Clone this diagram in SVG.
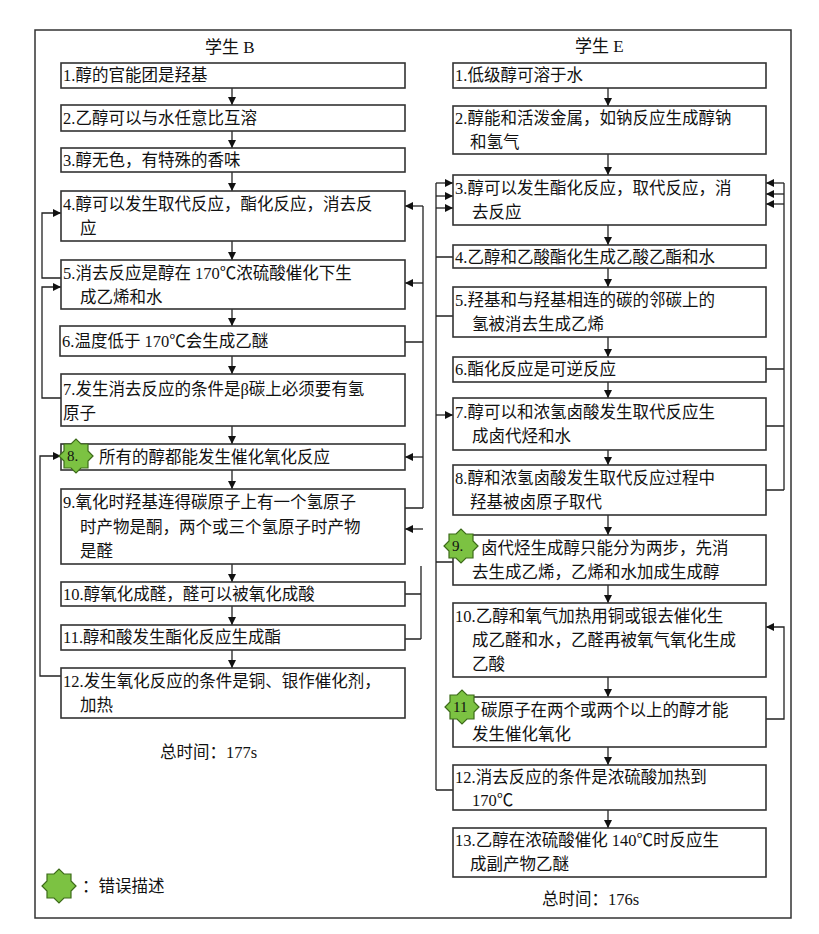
<svg xmlns="http://www.w3.org/2000/svg" width="819" height="934" viewBox="0 0 819 934">
<style>
.b{fill:#fff;stroke:#333;stroke-width:1.6}
.t{font-family:"Liberation Serif","Noto Sans CJK SC",serif;font-size:16.5px;fill:#111}
.h{font-family:"Liberation Serif","Noto Sans CJK SC",serif;font-size:17px;fill:#111}
.c{fill:none;stroke:#222;stroke-width:1.3}
.s{fill:#7cc242;stroke:#3d6b1a;stroke-width:1.2}
.n{font-family:"Liberation Serif",serif;font-size:15px;fill:#111}
</style>
<defs>
<marker id="a" viewBox="0 0 10 10" refX="10" refY="5" markerWidth="8" markerHeight="8" orient="auto" markerUnits="userSpaceOnUse"><path d="M0,0L10,5L0,10z" fill="#111"/></marker>
<polygon id="star" points="17,0 12,5 12,12 5,12 0,17 -5,12 -12,12 -12,5 -17,0 -12,-5 -12,-12 -5,-12 0,-17 5,-12 12,-12 12,-5"/>
</defs>
<rect x="0" y="0" width="819" height="934" fill="#fff"/>
<rect x="35" y="30" width="756" height="888" fill="none" stroke="#333" stroke-width="1.5"/>
<text class="h" x="205" y="53">学生 B</text>
<text class="h" x="575" y="52">学生 E</text>

<g id="connectors" class="c" marker-end="url(#a)">
<path d="M232,88V105"/><path d="M232,131V148"/><path d="M232,172V191"/><path d="M232,241V260"/><path d="M232,309V326"/><path d="M232,356V374"/><path d="M232,426V444"/><path d="M232,470V489"/><path d="M232,564V582"/><path d="M232,606V625"/><path d="M232,650V668"/>
<path d="M61,278H42V213H61"/>
<path d="M61,398H42V287H61"/>
<path d="M61,676H40V456H61"/>
<path d="M423,206V508M405,342H423M405,508H423M421,566V639M405,594H421M405,639H421" marker-end="none"/>
<path d="M423,206H405"/><path d="M423,283H405"/><path d="M423,457H405"/><path d="M423,529H405"/>
<path d="M608,88V106"/><path d="M608,154V175"/><path d="M608,225V245"/><path d="M608,268V287"/><path d="M608,337V357"/><path d="M608,382V398"/><path d="M608,450V465"/><path d="M608,515V535"/><path d="M608,585V603"/><path d="M608,677V697"/><path d="M608,747V765"/><path d="M608,810V828"/>
<path d="M436,183V790M453,257H436M453,316H436M453,562H436M453,790H436" marker-end="none"/>
<path d="M436,183H453"/><path d="M436,196H453"/><path d="M436,208H453"/><path d="M436,415H453"/>
<path d="M784,183V490M766,369H784M766,426H784M766,490H784" marker-end="none"/>
<path d="M784,183H766"/><path d="M784,194H766"/><path d="M784,204H766"/>
<path d="M766,719H784V627H766"/>
</g>

<g id="B1"><rect class="b" x="61" y="63" width="344" height="25"/><text class="t" x="63" y="81">1.醇的官能团是羟基</text></g>
<g id="B2"><rect class="b" x="61" y="105" width="344" height="26"/><text class="t" x="63" y="124">2.乙醇可以与水任意比互溶</text></g>
<g id="B3"><rect class="b" x="61" y="148" width="344" height="24"/><text class="t" x="63" y="166">3.醇无色，有特殊的香味</text></g>
<g id="B4"><rect class="b" x="61" y="191" width="344" height="50"/><text class="t" x="63" y="210">4.醇可以发生取代反应，酯化反应，消去反</text><text class="t" x="80" y="234">应</text></g>
<g id="B5"><rect class="b" x="61" y="260" width="344" height="49"/><text class="t" x="63" y="279">5.消去反应是醇在 170℃浓硫酸催化下生</text><text class="t" x="80" y="303">成乙烯和水</text></g>
<g id="B6"><rect class="b" x="60" y="326" width="345" height="30"/><text class="t" x="62" y="347">6.温度低于 170℃会生成乙醚</text></g>
<g id="B7"><rect class="b" x="61" y="374" width="344" height="52"/><text class="t" x="63" y="395">7.发生消去反应的条件是β碳上必须要有氢</text><text class="t" x="63" y="419">原子</text></g>
<g id="B8"><rect class="b" x="61" y="444" width="344" height="26"/><use href="#star" class="s" x="76" y="456"/><text class="n" x="67" y="461">8.</text><text class="t" x="99" y="463">所有的醇都能发生催化氧化反应</text></g>
<g id="B9"><rect class="b" x="61" y="489" width="344" height="75"/><text class="t" x="63" y="508">9.氧化时羟基连得碳原子上有一个氢原子</text><text class="t" x="80" y="533">时产物是酮，两个或三个氢原子时产物</text><text class="t" x="80" y="557">是醛</text></g>
<g id="B10"><rect class="b" x="61" y="582" width="344" height="24"/><text class="t" x="63" y="600">10.醇氧化成醛，醛可以被氧化成酸</text></g>
<g id="B11"><rect class="b" x="61" y="625" width="344" height="25"/><text class="t" x="63" y="643">11.醇和酸发生酯化反应生成酯</text></g>
<g id="B12"><rect class="b" x="61" y="668" width="344" height="50"/><text class="t" x="63" y="687">12.发生氧化反应的条件是铜、银作催化剂，</text><text class="t" x="80" y="711">加热</text></g>
<text class="t" x="160" y="758" font-size="15">总时间：177s</text>

<g id="E1"><rect class="b" x="453" y="63" width="313" height="25"/><text class="t" x="455" y="81">1.低级醇可溶于水</text></g>
<g id="E2"><rect class="b" x="453" y="106" width="313" height="48"/><text class="t" x="455" y="124">2.醇能和活泼金属，如钠反应生成醇钠</text><text class="t" x="470" y="148">和氢气</text></g>
<g id="E3"><rect class="b" x="453" y="175" width="313" height="50"/><text class="t" x="455" y="194">3.醇可以发生酯化反应，取代反应，消</text><text class="t" x="472" y="218">去反应</text></g>
<g id="E4"><rect class="b" x="453" y="245" width="313" height="23"/><text class="t" x="455" y="263">4.乙醇和乙酸酯化生成乙酸乙酯和水</text></g>
<g id="E5"><rect class="b" x="453" y="287" width="313" height="50"/><text class="t" x="455" y="306">5.羟基和与羟基相连的碳的邻碳上的</text><text class="t" x="472" y="330">氢被消去生成乙烯</text></g>
<g id="E6"><rect class="b" x="453" y="357" width="313" height="25"/><text class="t" x="455" y="375">6.酯化反应是可逆反应</text></g>
<g id="E7"><rect class="b" x="453" y="398" width="313" height="52"/><text class="t" x="455" y="418">7.醇可以和浓氢卤酸发生取代反应生</text><text class="t" x="472" y="442">成卤代烃和水</text></g>
<g id="E8"><rect class="b" x="453" y="465" width="313" height="50"/><text class="t" x="455" y="484">8.醇和浓氢卤酸发生取代反应过程中</text><text class="t" x="470" y="508">羟基被卤原子取代</text></g>
<g id="E9"><rect class="b" x="453" y="535" width="313" height="50"/><use href="#star" class="s" x="461" y="546"/><text class="n" x="452" y="551">9.</text><text class="t" x="481" y="554">卤代烃生成醇只能分为两步，先消</text><text class="t" x="472" y="578">去生成乙烯，乙烯和水加成生成醇</text></g>
<g id="E10"><rect class="b" x="453" y="603" width="313" height="74"/><text class="t" x="455" y="622">10.乙醇和氧气加热用铜或银去催化生</text><text class="t" x="472" y="646">成乙醛和水，乙醛再被氧气氧化生成</text><text class="t" x="472" y="670">乙酸</text></g>
<g id="E11"><rect class="b" x="453" y="697" width="313" height="50"/><use href="#star" class="s" x="462" y="707"/><text class="n" x="453" y="712">11</text><text class="t" x="481" y="716">碳原子在两个或两个以上的醇才能</text><text class="t" x="472" y="740">发生催化氧化</text></g>
<g id="E12"><rect class="b" x="453" y="765" width="313" height="45"/><text class="t" x="455" y="783">12.消去反应的条件是浓硫酸加热到</text><text class="t" x="472" y="806">170℃</text></g>
<g id="E13"><rect class="b" x="453" y="828" width="313" height="49"/><text class="t" x="455" y="846">13.乙醇在浓硫酸催化 140℃时反应生</text><text class="t" x="470" y="870">成副产物乙醚</text></g>
<text class="t" x="542" y="905" font-size="15">总时间：176s</text>

<g id="legend"><use href="#star" class="s" x="59" y="886"/><text class="t" x="82" y="892" font-size="15">：错误描述</text></g>
</svg>
